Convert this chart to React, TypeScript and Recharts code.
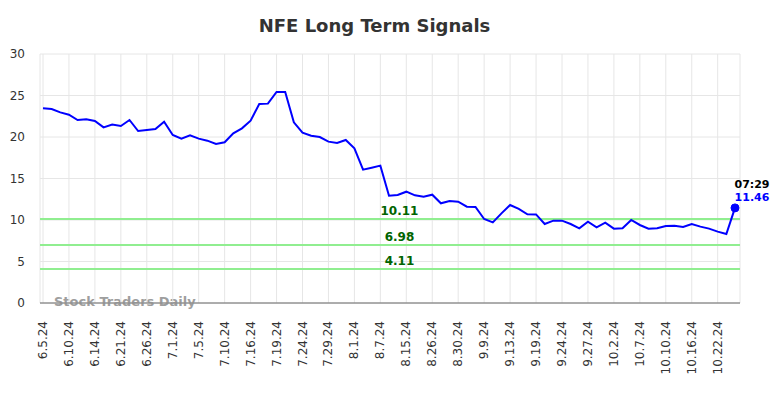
import React from 'react';
import { LineChart, Line, XAxis, YAxis, CartesianGrid, ReferenceLine } from 'recharts';

const dates: string[] = [
  '6.5.24', '6.6.24', '6.7.24', '6.10.24', '6.11.24', '6.12.24', '6.14.24', '6.17.24', '6.18.24',
  '6.21.24', '6.24.24', '6.25.24', '6.26.24', '6.27.24', '6.28.24', '7.1.24', '7.2.24', '7.3.24',
  '7.5.24', '7.8.24', '7.9.24', '7.10.24', '7.11.24', '7.12.24', '7.16.24', '7.17.24', '7.18.24',
  '7.19.24', '7.22.24', '7.23.24', '7.24.24', '7.25.24', '7.26.24', '7.29.24', '7.30.24', '7.31.24',
  '8.1.24', '8.2.24', '8.5.24', '8.7.24', '8.8.24', '8.12.24', '8.15.24', '8.19.24', '8.22.24',
  '8.26.24', '8.27.24', '8.28.24', '8.30.24', '9.3.24', '9.5.24', '9.9.24', '9.10.24', '9.11.24',
  '9.13.24', '9.16.24', '9.18.24', '9.19.24', '9.20.24', '9.23.24', '9.24.24', '9.25.24', '9.26.24',
  '9.27.24', '9.30.24', '10.1.24', '10.2.24', '10.3.24', '10.4.24', '10.7.24', '10.8.24', '10.9.24',
  '10.10.24', '10.11.24', '10.14.24', '10.16.24', '10.17.24', '10.18.24', '10.22.24', '10.23.24', '10.24.24',
];

const prices: number[] = [
  23.46, 23.37, 22.97, 22.69, 22.05, 22.13, 21.93, 21.16, 21.49,
  21.33, 22.05, 20.72, 20.84, 20.96, 21.85, 20.24, 19.8, 20.2,
  19.8, 19.56, 19.16, 19.36, 20.44, 21.04, 21.97, 23.98, 24.02,
  25.42, 25.42, 21.77, 20.52, 20.16, 20.0, 19.44, 19.28, 19.64,
  18.63, 16.06, 16.3, 16.55, 12.93, 13.01, 13.41, 12.97, 12.81,
  13.05, 12.01, 12.29, 12.21, 11.61, 11.57, 10.12, 9.72, 10.8,
  11.8, 11.33, 10.69, 10.67, 9.52, 9.92, 9.92, 9.52, 9.0,
  9.8, 9.12, 9.68, 8.96, 9.0, 10.0, 9.4, 8.96, 9.0,
  9.28, 9.32, 9.16, 9.52, 9.2, 8.96, 8.6, 8.31, 11.46,
];

const signalLevels: number[] = [10.11, 6.98, 4.11];
const yTicks: number[] = [0, 5, 10, 15, 20, 25, 30];
const titleText = 'NFE Long Term Signals';
const watermarkText = 'Stock Traders Daily';
const lastTimeLabel = '07:29';

const data = dates.map((d, i) => ({ date: d, price: prices[i] }));

const FONT = "'DejaVu Sans', sans-serif";

const XTick = (props: any) => {
  const { x, y, payload } = props;
  const ty = y + 10;
  return (
    <text
      x={x}
      y={ty}
      transform={`rotate(-90, ${x}, ${ty})`}
      textAnchor="end"
      dominantBaseline="central"
      fontSize={12}
      fill="#333"
      fontFamily={FONT}
    >
      {payload.value}
    </text>
  );
};

const LastDot = (props: any) => {
  const { cx, cy, index } = props;
  if (index !== prices.length - 1) return <g key={`d-${index}`} />;
  return (
    <g key={`d-${index}`}>
      <circle cx={cx} cy={cy} r={4} fill="#0000ff" stroke="#0000ff" />
      <text x={cx + 17} y={cy - 20} textAnchor="middle" fontSize={11} fontWeight="bold" fill="#000" fontFamily={FONT}>
        {lastTimeLabel}
      </text>
      <text x={cx + 17} y={cy - 7} textAnchor="middle" fontSize={11} fontWeight="bold" fill="#0000ff" fontFamily={FONT}>
        {prices[prices.length - 1].toFixed(2)}
      </text>
    </g>
  );
};

const levelLabel = (value: number) => (props: any) => {
  const vb = props.viewBox || {};
  return (
    <text x={399.5} y={vb.y - 4} textAnchor="middle" fontSize={12} fontWeight="bold" fill="#006400" fontFamily={FONT}>
      {value.toFixed(2)}
    </text>
  );
};

export default function App() {
  return (
    <div style={{ position: 'absolute', left: 0, top: 0, width: 784, height: 398, background: '#fff' }}>
      <svg width={784} height={398} style={{ position: 'absolute', left: 0, top: 0 }}>
        <text x={374.5} y={32} textAnchor="middle" fontSize={18} fontWeight="bold" fill="#333" fontFamily={FONT}>
          {titleText}
        </text>
        <text x={54} y={306} textAnchor="start" fontSize={13} fontWeight="bold" fill="#9e9e9e" fontFamily={FONT}>
          {watermarkText}
        </text>
      </svg>
      <div style={{ position: 'absolute', left: 0, top: 0 }}>
        <LineChart
          width={784}
          height={398}
          data={data}
          margin={{ top: 54, right: 44, bottom: 0, left: 0 }}
          style={{ fontFamily: FONT }}
        >
          <CartesianGrid stroke="#e6e6e6" strokeWidth={1} />
          <XAxis
            dataKey="date"
            interval={2}
            height={95}
            padding={{ left: 3, right: 5 }}
            tickLine={false}
            axisLine={{ stroke: '#666', strokeWidth: 1 }}
            tick={<XTick />}
          />
          <YAxis
            width={40}
            domain={[0, 30]}
            ticks={yTicks}
            axisLine={false}
            tickLine={false}
            tickMargin={9}
            tick={{ fontSize: 12, fill: '#333', fontFamily: FONT }}
          />
          {signalLevels.map((lv) => (
            <ReferenceLine
              key={lv}
              y={lv}
              stroke="#90ee90"
              strokeWidth={2}
              label={levelLabel(lv)}
            />
          ))}
          <Line
            type="linear"
            dataKey="price"
            stroke="#0000ff"
            strokeWidth={2}
            dot={LastDot}
            activeDot={false}
            isAnimationActive={false}
          />
        </LineChart>
      </div>
    </div>
  );
}
